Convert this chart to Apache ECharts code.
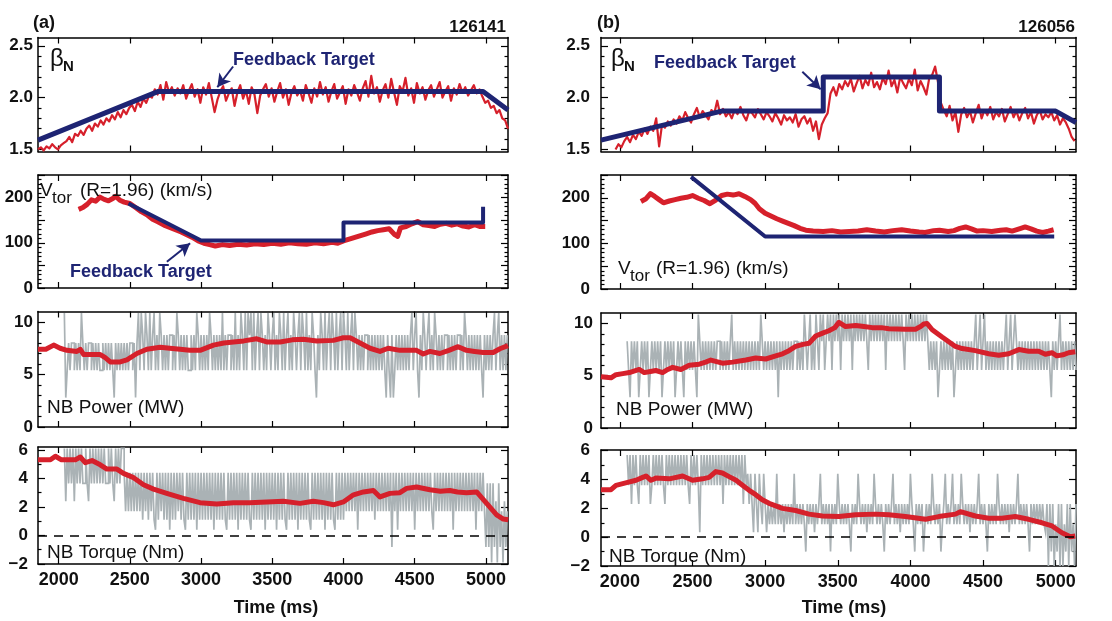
<!DOCTYPE html>
<html><head><meta charset="utf-8">
<script src="https://cdn.jsdelivr.net/npm/echarts@6.0.0/dist/echarts.min.js"></script>
<style>html,body{margin:0;padding:0;background:#fff}#c{width:1112px;height:621px}</style>
</head><body><div id="c"></div>
<script>
// ===================== DATA =====================
const xTicks = [2000, 2500, 3000, 3500, 4000, 4500, 5000];
const xRangeA = [1855, 5155];
const xRangeB = [1870, 5140];

const betaLabels = [1.5, 2.0, 2.5];
const betaMinor = [1.6, 1.7, 1.8, 1.9, 2.1, 2.2, 2.3, 2.4];
const vtorLabels = [0, 100, 200];
const vtorMajor = [0, 50, 100, 150, 200, 250];
const vtorMinor = [10,20,30,40,60,70,80,90,110,120,130,140,160,170,180,190,210,220,230,240];
const powLabels = [0, 5, 10];
const powMinor = [1, 2, 3, 4, 6, 7, 8, 9];
const torqLabels = [-2, 0, 2, 4, 6];
const torqMinor = [-1, 1, 3, 5];
const betaRange = [1.48, 2.58];
const vtorRange = [0, 250];
const powRange = [0, 11];
const torqRangeA = [-2, 6.2];
const torqRangeB = [-2, 6.05];

// ---- (a) beta_N ----
const betaA_t0 = 1855, betaA_dt = 20;
const betaA = [1.50,1.52,1.49,1.53,1.51,1.55,1.52,1.50,1.54,1.56,
 1.58,1.62,1.57,1.65,1.63,1.68,1.64,1.70,1.73,1.68,
 1.75,1.72,1.78,1.74,1.80,1.77,1.83,1.79,1.86,1.81,
 1.88,1.84,1.90,1.93,1.87,1.96,1.91,1.99,1.95,2.02,
 2.00,2.08,2.03,2.12,1.98,2.15,2.05,2.10,2.02,2.09,
 2.04,2.12,1.99,2.07,2.13,2.01,2.08,1.95,2.10,2.03,
 2.14,2.00,1.86,1.98,2.06,2.11,1.97,2.04,2.09,1.92,
 2.05,2.12,1.99,2.07,1.94,2.10,2.03,1.85,2.02,2.08,
 2.13,2.01,2.09,1.96,2.06,2.14,2.00,2.08,1.93,2.05,
 2.11,2.02,2.07,1.97,2.12,2.04,1.95,2.09,2.01,2.15,
 2.03,2.10,1.96,2.06,2.13,1.99,2.05,2.11,1.94,2.08,
 2.02,2.12,2.05,1.97,2.09,2.16,2.01,2.21,2.04,2.10,
 1.96,2.07,2.13,2.00,2.18,2.05,1.93,2.11,2.06,2.19,
 2.02,2.09,1.95,2.14,2.04,2.10,1.98,2.07,2.12,2.01,
 2.08,2.15,2.00,2.06,2.11,1.97,2.09,2.03,2.13,2.05,
 2.10,2.02,2.07,2.12,2.04,2.08,2.01,1.95,1.97,1.90,
 1.92,1.85,1.88,1.80,1.78,1.70];
const betaTargetA_t = [1855, 2700, 4980, 5155];
const betaTargetA_v = [1.59, 2.06, 2.06, 1.88];
const betaArrowA_t = [3225, 3114];
const betaArrowA_v = [2.30, 2.10];

// ---- (b) beta_N ----
const betaB_t0 = 1970, betaB_dt = 20;
const betaB = [1.50,1.55,1.52,1.58,1.62,1.57,1.64,1.60,1.67,1.63,
 1.70,1.65,1.72,1.68,1.80,1.53,1.74,1.71,1.77,1.73,
 1.79,1.75,1.82,1.78,1.86,1.80,1.76,1.84,1.90,1.81,
 1.87,1.83,1.79,1.88,1.85,1.97,1.84,1.89,1.82,1.86,
 1.80,1.88,1.84,1.91,1.83,1.78,1.87,1.85,1.81,1.89,
 1.84,1.79,1.86,1.82,1.77,1.85,1.80,1.74,1.83,1.78,
 1.81,1.76,1.84,1.72,1.79,1.82,1.75,1.80,1.68,1.77,
 1.60,1.74,1.80,1.85,2.04,2.10,2.02,2.13,2.08,2.16,
 2.11,2.18,2.06,2.14,2.21,2.09,2.17,2.12,2.24,2.10,
 2.15,2.08,2.19,2.13,2.26,2.11,2.17,2.05,2.20,2.14,
 2.09,2.18,2.12,2.27,2.07,2.16,2.10,2.03,2.19,2.22,
 2.30,2.15,1.95,1.88,1.82,1.92,1.78,1.86,1.67,1.84,
 1.90,1.81,1.87,1.76,1.85,1.93,1.80,1.88,1.83,1.91,
 1.79,1.86,1.82,1.89,1.77,1.84,1.91,1.81,1.87,1.78,
 1.85,1.90,1.80,1.86,1.75,1.83,1.88,1.79,1.84,1.81,
 1.86,1.78,1.83,1.74,1.80,1.76,1.70,1.62,1.58];
const betaTargetB_t = [1870, 2700, 3400, 3400, 4200, 4200, 5000, 5140];
const betaTargetB_v = [1.59, 1.87, 1.87, 2.20, 2.20, 1.87, 1.87, 1.76];
const betaArrowB_t = [3256, 3382];
const betaArrowB_v = [2.25, 2.08];

// ---- (a) V_tor ----
const vtorA_t = [2140,2170,2200,2230,2260,2290,2320,2350,2380,2400,
 2430,2460,2500,2540,2580,2620,2660,2700,2740,2780,
 2820,2860,2900,2940,2980,3020,3060,3100,3150,3200,
 3260,3320,3380,3440,3500,3560,3620,3680,3740,3800,
 3860,3920,3960,4000,4040,4080,4120,4160,4200,4240,
 4280,4320,4360,4380,4400,4440,4480,4520,4560,4600,
 4640,4680,4720,4760,4800,4840,4880,4920,4960,4995];
const vtorA_v = [174,178,185,195,192,201,196,193,198,203,
 194,190,187,178,169,162,152,146,139,134,
 129,124,118,112,104,99,96,93,96,94,
 97,95,98,96,99,97,100,98,97,100,
 98,101,99,104,108,112,116,120,124,127,
 129,131,118,114,133,136,142,147,140,138,
 136,141,143,139,142,137,135,140,136,136];
const vtorTargetA_t = [2490, 3000, 4000, 4000, 4980, 4980];
const vtorTargetA_v = [187, 105, 105, 145, 145, 180];
const vtorArrowA_t = [2760, 2923];
const vtorArrowA_v = [58, 99];

// ---- (b) V_tor ----
const vtorB_t = [2145,2180,2210,2240,2270,2300,2340,2380,2420,2460,
 2500,2540,2580,2620,2660,2700,2740,2780,2820,2860,
 2900,2930,2960,3000,3040,3080,3120,3160,3200,3240,
 3280,3330,3400,3460,3520,3580,3640,3700,3760,3820,
 3880,3940,4000,4060,4100,4160,4200,4260,4300,4340,
 4380,4420,4460,4500,4560,4620,4660,4700,4760,4790,
 4830,4870,4910,4950,4986];
const vtorB_v = [192,198,209,203,196,189,193,196,199,201,
 205,199,194,187,195,205,208,206,209,203,
 196,188,176,166,160,154,149,144,139,133,
 129,127,126,128,125,126,127,130,127,125,
 128,130,127,125,124,128,129,126,128,133,
 136,132,127,128,126,129,130,127,133,136,
 132,127,124,127,130];
const vtorTargetB_t = [2490, 3000, 4990];
const vtorTargetB_v = [246, 115, 115];

// ---- (a) NB power ----
const powA_t = [1855,1910,1965,2010,2058,2128,2152,2175,2230,2292,
 2327,2362,2400,2432,2479,2549,2619,2713,2780,2853,
 2920,2993,3087,3160,3228,3300,3391,3461,3555,3640,
 3718,3812,3929,3999,4046,4116,4186,4256,4314,4396,
 4513,4560,4607,4677,4740,4805,4864,4920,4981,5051,
 5098,5155];
const powA_v = [7.4,7.4,7.8,7.5,7.3,7.2,7.4,6.9,6.9,6.9,
 6.6,6.2,6.2,6.2,6.4,7.0,7.4,7.6,7.5,7.4,
 7.3,7.3,7.8,8.0,8.1,8.2,8.4,8.1,8.1,8.3,
 8.35,8.2,8.25,8.5,8.5,8.0,7.5,7.2,7.5,7.3,
 7.3,6.95,7.2,7.0,7.3,7.65,7.3,7.2,7.1,7.1,
 7.45,7.75];
const beamPowA_t0 = 2040, beamPowA_dt = 10;
const beamPowA_levels = [2.8, 5.4, 8.0, 8.75, 10.85];
const beamPowA = [4,0,1,2,1,2,2,1,2,1,2,1,4,2,1,2,1,2,2,1,2,1,2,1,2,1,1,2,1,2,1,2,1,2,1,0,2,1,2,1,2,1,2,1,2,1,2,2,1,2,
 0,2,4,1,4,3,1,4,3,1,4,1,3,4,1,3,1,4,3,1,3,1,3,1,3,3,1,3,1,4,3,1,3,1,3,1,3,1,1,3,1,3,1,4,3,1,3,1,3,1,
 3,1,4,3,1,3,1,3,1,3,1,4,1,3,1,3,3,1,3,1,4,1,3,1,4,3,1,4,1,4,3,4,1,4,1,3,4,1,4,3,1,3,1,4,3,1,3,4,1,3,
 1,4,3,1,4,1,3,4,1,3,1,4,3,1,3,4,1,4,3,1,4,1,3,1,4,3,1,0,3,1,4,3,1,4,1,3,4,1,4,3,1,4,1,3,4,1,4,3,1,4,
 1,3,4,1,4,3,1,3,1,3,1,3,3,1,3,1,3,1,3,1,3,1,3,1,3,1,0,3,1,0,3,0,1,3,1,3,1,3,1,3,1,3,1,3,4,1,3,4,1,0,
 3,1,4,3,1,3,4,1,3,1,4,3,1,3,1,3,1,3,3,1,3,1,3,1,3,1,3,3,1,3,1,4,3,1,3,1,3,1,3,1,3,1,3,1,0,3,1,3,1,3,
 1,3,4,1,3,4,1,3,1,3,1,3];

// ---- (b) NB power ----
const powB_t = [1870,1939,1973,2020,2065,2133,2168,2210,2248,2294,
 2330,2363,2420,2477,2546,2590,2626,2706,2775,2867,
 2935,3004,3073,3120,3164,3210,3260,3302,3348,3400,
 3439,3480,3508,3554,3623,3680,3737,3800,3851,3966,
 4035,4070,4092,4115,4150,4218,4310,4356,4447,4539,
 4608,4677,4746,4814,4883,4929,4974,5008,5050,5089,
 5135];
const powB_v = [4.9,4.8,5.1,5.2,5.3,5.6,5.3,5.4,5.5,5.3,
 5.6,5.8,5.6,6.0,6.1,6.3,6.5,6.2,6.3,6.5,
 6.7,6.6,6.9,7.1,7.4,7.8,8.0,8.1,8.8,9.1,
 9.3,9.6,10.1,9.7,9.8,9.7,9.6,9.6,9.5,9.45,
 9.45,9.7,9.95,10.0,9.4,8.7,7.8,7.6,7.4,7.1,
 6.95,7.1,7.5,7.35,7.35,7.05,7.2,6.9,7.0,7.2,
 7.3];
const beamPowB_t0 = 2050, beamPowB_dt = 10;
const beamPowB_levels = [2.95, 5.55, 8.3, 10.85];
const beamPowB = [2,1,0,2,1,2,1,2,0,1,2,1,2,1,2,0,1,2,1,2,1,2,1,2,0,1,2,1,2,1,2,1,2,0,1,2,1,2,1,0,2,1,2,1,2,1,2,1,0,3,
 2,1,2,1,2,1,2,1,2,1,2,1,2,2,1,2,1,2,1,2,1,2,3,1,2,1,2,1,2,1,2,1,2,1,2,1,2,1,2,1,2,1,3,2,1,2,1,2,1,2,
 1,2,1,2,0,2,1,2,1,2,1,2,1,2,1,2,2,1,2,1,2,1,3,2,1,2,3,1,2,1,3,2,1,3,2,3,1,2,3,2,3,1,3,2,3,2,3,1,3,2,
 3,2,3,2,3,1,3,2,3,2,3,2,3,2,3,2,1,3,2,3,2,3,2,3,2,3,2,3,1,3,2,3,2,3,2,3,2,3,2,3,2,1,3,2,3,2,3,2,3,2,
 3,2,3,2,3,2,3,2,1,2,1,2,1,2,0,1,2,1,2,1,2,1,2,1,2,0,1,2,1,2,1,2,1,2,1,2,1,2,1,2,3,1,2,3,1,2,3,1,2,1,
 2,1,2,1,2,1,2,1,2,1,2,3,1,2,3,1,2,3,2,1,2,1,2,1,2,1,2,1,2,1,2,1,2,1,2,1,2,1,2,1,2,1,0,2,1,2,1,2,3,1,
 2,1,2,1,2,1,2,1,2,1];

// ---- (a) NB torque ----
const torqA_t = [1855,1942,1977,2020,2058,2117,2152,2187,2234,2292,
 2339,2409,2455,2526,2596,2666,2759,2876,2993,3110,
 3228,3340,3461,3578,3695,3788,3860,3929,3999,4070,
 4140,4210,4256,4326,4396,4443,4513,4607,4680,4747,
 4800,4864,4935,5005,5040,5075,5122,5157];
const torqA_v = [5.3,5.3,5.55,5.3,5.3,5.3,5.5,5.1,5.25,4.95,
 4.65,4.65,4.35,4.05,3.55,3.25,2.95,2.6,2.3,2.2,
 2.3,2.3,2.35,2.4,2.25,2.4,2.3,2.15,2.35,2.85,
 3.05,3.15,2.7,2.95,3.0,3.3,3.4,3.2,3.1,3.15,
 3.05,3.0,3.05,2.25,1.85,1.45,1.15,1.1];
const beamTorqA_t0 = 2040, beamTorqA_dt = 10;
const beamTorqA_levels = [-1.9, -0.8, 0.4, 1.1, 1.7, 2.4, 3.65, 4.4, 6.1];
const beamTorqA = [8,5,8,6,8,6,8,5,8,6,8,6,8,6,6,8,6,5,8,6,8,6,8,6,8,6,8,6,8,6,6,8,6,8,6,5,8,6,8,6,8,8,7,4,7,4,7,4,7,4,
 7,4,7,4,7,3,7,4,7,3,7,4,7,3,2,7,3,7,4,7,3,7,3,7,2,7,3,7,3,7,4,7,3,7,3,2,7,3,7,3,7,3,7,2,7,3,7,3,7,3,
 7,3,7,3,7,2,7,3,7,3,7,3,7,3,2,7,3,7,3,7,3,7,2,7,3,7,3,7,3,7,3,2,7,3,7,3,7,3,7,3,7,2,7,3,7,3,7,3,7,2,
 7,3,7,3,7,3,2,7,3,7,3,7,3,7,2,7,3,7,3,7,3,7,3,2,7,3,7,3,7,3,7,3,7,2,7,3,7,3,7,3,2,7,3,7,3,7,3,7,4,7,
 4,7,4,7,4,7,2,7,4,7,4,7,4,7,4,7,4,7,3,7,4,7,4,7,4,7,4,7,4,7,1,7,4,7,2,7,4,7,4,7,4,7,4,7,4,7,2,7,4,7,
 4,7,4,7,4,7,4,7,4,2,7,4,7,4,7,4,7,4,7,4,7,4,7,2,7,4,7,4,7,4,7,4,7,4,7,4,7,4,7,2,7,4,7,4,7,4,1,6,1,6,
 0,6,1,5,0,6,1,4,0,5,1,4];

// ---- (b) NB torque ----
const torqB_t = [1870,1939,1973,2053,2111,2157,2180,2214,2248,2340,
 2432,2500,2569,2614,2660,2706,2752,2800,2844,2890,
 2935,2980,3027,3119,3210,3302,3394,3508,3623,3760,
 3851,3966,4104,4195,4310,4344,4447,4539,4631,4722,
 4814,4906,4975,5043,5101,5135];
const torqB_v = [3.3,3.3,3.6,3.8,3.95,4.15,4.25,3.95,4.1,4.05,
 4.25,3.95,4.05,4.15,4.55,4.45,4.2,3.95,3.6,3.25,
 2.95,2.6,2.35,2.0,1.85,1.6,1.47,1.43,1.55,1.6,
 1.55,1.43,1.24,1.43,1.6,1.77,1.47,1.31,1.31,1.43,
 1.24,1.0,0.78,0.31,0.03,0.08];
const beamTorqB_t0 = 2050, beamTorqB_dt = 10;
const beamTorqB_levels = [-2.0, -1.0, 0.35, 0.9, 2.3, 3.6, 4.4, 5.7];
const beamTorqB = [7,5,7,4,7,5,7,5,4,7,5,7,5,7,5,7,4,5,7,5,7,5,7,5,7,5,4,7,5,7,5,7,5,7,5,7,5,7,5,7,5,7,5,4,7,5,7,5,7,5,
 2,7,5,7,5,7,5,7,5,7,5,7,5,7,5,7,4,7,5,7,5,7,5,7,5,7,5,7,5,7,4,7,5,6,4,6,4,2,6,4,2,6,4,3,6,4,2,4,3,4,
 3,4,3,6,3,4,3,4,2,4,3,4,3,4,3,6,3,4,3,4,3,4,3,1,4,3,4,3,4,2,4,3,4,6,3,4,3,4,3,4,1,4,3,4,3,6,4,3,4,3,
 4,3,4,3,1,4,3,4,3,6,4,3,4,3,4,2,4,3,4,3,6,4,3,4,3,4,3,1,4,3,4,3,4,6,3,4,3,4,2,4,3,4,3,4,3,6,4,3,1,4,
 3,4,3,4,1,3,4,3,4,3,6,4,3,4,3,4,1,3,4,6,3,4,3,4,6,3,4,3,4,3,6,4,3,4,3,4,2,4,3,4,3,4,6,3,4,3,4,3,1,4,
 3,4,3,4,3,6,4,3,4,3,4,3,4,2,4,3,4,3,4,6,3,4,3,4,3,4,3,1,4,3,4,3,4,3,4,3,4,3,2,4,0,4,1,4,0,3,1,4,0,4,
 0,3,1,4,0,4,1,3,0,4];

// ===================== CHART =====================
const FONT = '"Liberation Sans", Arial, Helvetica, sans-serif';
const RED = '#d6202b', NAVY = '#1e2473', GRAY = '#aab2b5';

const pairs = (ts, vs) => ts.map((t, i) => [t, vs[i]]);
const regular = (t0, dt, vs) => vs.map((v, i) => [t0 + i * dt, v]);
const leveled = (t0, dt, idx, lv) => idx.map((k, i) => [t0 + i * dt, lv[k]]);

const grids = [
  {left: 38, top: 37.5, width: 470, height: 114},
  {left: 601, top: 37.5, width: 475, height: 114},
  {left: 38, top: 175, width: 470, height: 113},
  {left: 601, top: 175, width: 475, height: 114},
  {left: 38, top: 311.5, width: 470, height: 115.5},
  {left: 601, top: 313, width: 475, height: 115},
  {left: 38, top: 447, width: 470, height: 117},
  {left: 601, top: 450, width: 475, height: 116}
];

const minus = v => (v < 0 ? '\u2212' + (-v) : String(v));
const rowSpec = [
  {range: [betaRange, betaRange], labels: betaLabels, major: betaLabels, minor: betaMinor, fmt: v => v.toFixed(1)},
  {range: [vtorRange, vtorRange], labels: vtorLabels, major: vtorMajor, minor: vtorMinor, fmt: v => String(v)},
  {range: [powRange, powRange], labels: powLabels, major: powLabels, minor: powMinor, fmt: v => String(v)},
  {range: [torqRangeA, torqRangeB], labels: torqLabels, major: torqLabels, minor: torqMinor, fmt: minus}
];

const xAxes = [], yAxes = [];
const lineBlack = {color: '#000', width: 1.5};
for (let g = 0; g < 8; g++) {
  const row = Math.floor(g / 2), col = g % 2;
  const xr = col === 0 ? xRangeA : xRangeB;
  ['bottom', 'top'].forEach(pos => {
    xAxes.push({
      type: 'value', gridIndex: g, position: pos, min: xr[0], max: xr[1],
      axisLine: {show: true, onZero: false, lineStyle: lineBlack},
      axisTick: {show: true, inside: true, length: 6, customValues: xTicks, lineStyle: {color: '#000', width: 1.2}},
      axisLabel: {show: pos === 'bottom' && row === 3, customValues: xTicks, margin: 7,
        formatter: v => String(v),
        color: '#111', fontSize: 18, fontWeight: 'bold', fontFamily: FONT},
      splitLine: {show: false}
    });
  });
  const spec = rowSpec[row];
  const yr = spec.range[col];
  const lm = col === 0 ? (row === 3 ? 10 : 5) : (row === 2 ? 8 : 11);
  [['left', true], ['right', true], ['left', false], ['right', false]].forEach(([pos, major]) => {
    yAxes.push({
      type: 'value', gridIndex: g, position: pos, min: yr[0], max: yr[1],
      axisLine: {show: major, onZero: false, lineStyle: lineBlack},
      axisTick: {show: true, inside: true, length: major ? 7 : 3.5,
        customValues: major ? spec.major : spec.minor, lineStyle: {color: '#000', width: 1.2}},
      axisLabel: {show: major && pos === 'left', customValues: spec.labels, margin: lm,
        formatter: spec.fmt, color: '#111', fontSize: 17, fontWeight: 'bold', fontFamily: FONT},
      splitLine: {show: false}
    });
  });
}

function ln(g, data, color, width, z, extra) {
  return Object.assign({
    type: 'line', xAxisIndex: 2 * g, yAxisIndex: 4 * g, data: data,
    symbol: 'none', showSymbol: false, silent: true, animation: false, z: z,
    lineStyle: {color: color, width: width, join: 'round'}, itemStyle: {color: color}
  }, extra || {});
}
function arrow(ts, vs) {
  return {
    silent: true, animation: false, symbol: ['none', 'arrow'], symbolSize: [11, 13],
    label: {show: false}, emphasis: {disabled: true},
    lineStyle: {color: NAVY, width: 2, type: 'solid'},
    data: [[{coord: [ts[0], vs[0]]}, {coord: [ts[1], vs[1]]}]]
  };
}
const zeroLine = {
  silent: true, animation: false, symbol: ['none', 'none'], label: {show: false},
  emphasis: {disabled: true}, lineStyle: {color: '#000', width: 1.5, type: [9, 7]},
  data: [{yAxis: 0}]
};
const grayStyle = {step: 'end', lineStyle: {color: GRAY, width: 1.7, join: 'miter', cap: 'butt'}};

const series = [
  ln(0, regular(betaA_t0, betaA_dt, betaA), RED, 2.2, 3),
  ln(0, pairs(betaTargetA_t, betaTargetA_v), NAVY, 5, 4, {markLine: arrow(betaArrowA_t, betaArrowA_v)}),
  ln(1, regular(betaB_t0, betaB_dt, betaB), RED, 2.2, 3),
  ln(1, pairs(betaTargetB_t, betaTargetB_v), NAVY, 5, 4, {markLine: arrow(betaArrowB_t, betaArrowB_v)}),
  ln(2, pairs(vtorA_t, vtorA_v), RED, 5, 3),
  ln(2, pairs(vtorTargetA_t, vtorTargetA_v), NAVY, 4, 4, {markLine: arrow(vtorArrowA_t, vtorArrowA_v)}),
  ln(3, pairs(vtorB_t, vtorB_v), RED, 5, 3),
  ln(3, pairs(vtorTargetB_t, vtorTargetB_v), NAVY, 4, 4),
  ln(4, leveled(beamPowA_t0, beamPowA_dt, beamPowA, beamPowA_levels), GRAY, 1.7, 2, grayStyle),
  ln(4, pairs(powA_t, powA_v), RED, 5, 3),
  ln(5, leveled(beamPowB_t0, beamPowB_dt, beamPowB, beamPowB_levels), GRAY, 1.7, 2, grayStyle),
  ln(5, pairs(powB_t, powB_v), RED, 5, 3),
  ln(6, leveled(beamTorqA_t0, beamTorqA_dt, beamTorqA, beamTorqA_levels), GRAY, 1.7, 2, grayStyle),
  ln(6, pairs(torqA_t, torqA_v), RED, 5, 3, {markLine: zeroLine}),
  ln(7, leveled(beamTorqB_t0, beamTorqB_dt, beamTorqB, beamTorqB_levels), GRAY, 1.7, 2, grayStyle),
  ln(7, pairs(torqB_t, torqB_v), RED, 5, 3, {markLine: zeroLine})
];

function txt(x, y, text, size, weight, color, align) {
  return {type: 'text', x: x, y: y, silent: true, z: 100,
    style: {text: text, fontSize: size, fontWeight: weight, fontFamily: FONT, fill: color || '#111',
      align: align || 'left', textAlign: align || 'left', verticalAlign: 'middle', textVerticalAlign: 'middle'}};
}
const graphics = [
  txt(33, 23, '(a)', 18, 'bold'),
  txt(506, 27, '126141', 17, 'bold', '#111', 'right'),
  txt(597, 23, '(b)', 18, 'bold'),
  txt(1075, 27, '126056', 17, 'bold', '#111', 'right'),
  txt(50, 59, '\u03b2', 24, 'normal'),
  txt(63, 67, 'N', 15, 'bold'),
  txt(611, 59, '\u03b2', 24, 'normal'),
  txt(624, 67, 'N', 15, 'bold'),
  txt(233, 60, 'Feedback Target', 18, 'bold', NAVY),
  txt(654, 63, 'Feedback Target', 18, 'bold', NAVY),
  txt(70, 272, 'Feedback Target', 18, 'bold', NAVY),
  txt(40, 191, 'V', 19, 'normal'),
  txt(52, 198, 'tor', 17, 'normal'),
  txt(80, 191, '(R=1.96) (km/s)', 19, 'normal'),
  txt(618, 269, 'V', 19, 'normal'),
  txt(630, 276, 'tor', 17, 'normal'),
  txt(656, 269, '(R=1.96) (km/s)', 19, 'normal'),
  txt(47, 408, 'NB Power (MW)', 19, 'normal'),
  txt(616, 410, 'NB Power (MW)', 19, 'normal'),
  txt(47, 553, 'NB Torque (Nm)', 19, 'normal'),
  txt(609, 557, 'NB Torque (Nm)', 19, 'normal'),
  txt(276, 608, 'Time (ms)', 18, 'bold', '#111', 'center'),
  txt(844, 608, 'Time (ms)', 18, 'bold', '#111', 'center')
];

const chart = echarts.init(document.getElementById('c'), null, {renderer: 'canvas'});
chart.setOption({
  animation: false,
  backgroundColor: '#fff',
  grid: grids,
  xAxis: xAxes,
  yAxis: yAxes,
  series: series,
  graphic: graphics
});
</script>
</body></html>
